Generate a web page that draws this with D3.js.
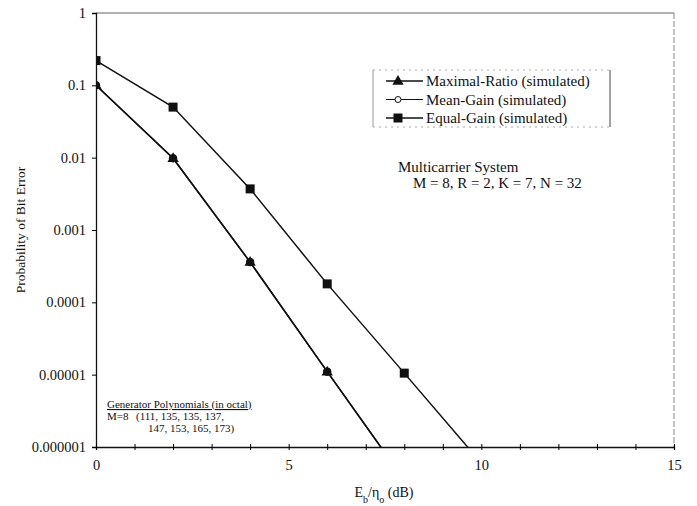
<!DOCTYPE html>
<html>
<head>
<meta charset="utf-8">
<style>
  body { margin: 0; background: #fff; }
  svg text { font-family: "Liberation Serif", "Times New Roman", serif; fill: #111; }
</style>
<script src="https://d3js.org/d3.v7.min.js"></script>
</head>
<body>
<svg id="svg" width="697" height="506"></svg>
<script>
  // values
  let snr = [0, 2, 4, 6, 8];
  let snrEqual = [0, 2, 4, 6, 8, 10];
  let maximalRatio = [0.1, 0.0098, 0.00036, 0.000011, 0.00000035];
  let meanGain = [0.1, 0.0098, 0.00036, 0.000011, 0.00000035];
  let equalGain = [0.22, 0.05, 0.0037, 0.00018, 0.0000105, 0.0000006];
  let yTicks = [1, 0.1, 0.01, 0.001, 0.0001, 0.00001, 0.000001];
  let yTickLabels = ["1", "0.1", "0.01", "0.001", "0.0001", "0.00001", "0.000001"];
  let xTicks = d3.range(0, 16);
  let xLabelTicks = [0, 5, 10, 15];
  let legendNames = ["Maximal-Ratio (simulated)", "Mean-Gain (simulated)", "Equal-Gain (simulated)"];

  let svg = d3.select("#svg");
  let x = d3.scaleLinear().domain([0, 15]).range([96, 674]);
  let y = d3.scaleLog().domain([1e-6, 1]).range([447, 13]);

  svg.append("clipPath").attr("id", "plot")
    .append("rect").attr("x", 96).attr("y", 13).attr("width", 578).attr("height", 434);

  // frame top / right
  svg.append("line").attr("x1", 96).attr("x2", 674).attr("y1", 13).attr("y2", 13)
    .attr("stroke", "#666").attr("stroke-width", 1);
  svg.append("line").attr("x1", 674).attr("x2", 674).attr("y1", 13).attr("y2", 447)
    .attr("stroke", "#888").attr("stroke-width", 1).attr("stroke-dasharray", "6,2");

  // y axis
  let yAxis = svg.append("g").attr("transform", "translate(96,0)")
    .call(d3.axisLeft(y).tickValues(yTicks).tickSize(4).tickPadding(6)
      .tickFormat(function (d, i) { return yTickLabels[i]; }));
  yAxis.select(".domain").attr("stroke", "#111").attr("stroke-width", 1.3);
  yAxis.selectAll("text").style("font-size", "14.5px").style("font-family", "Liberation Serif");

  // x axis
  let xAxis = svg.append("g").attr("transform", "translate(0,447)")
    .call(d3.axisBottom(x).tickValues(xTicks).tickSize(3).tickPadding(10)
      .tickFormat(function (d) { return xLabelTicks.includes(d) ? d : ""; }));
  xAxis.select(".domain").attr("stroke", "#111").attr("stroke-width", 1.3);
  xAxis.selectAll(".tick line").attr("y1", -3);
  xAxis.selectAll("text").style("font-size", "14.5px").style("font-family", "Liberation Serif");

  // axis titles
  svg.append("text")
    .attr("transform", "translate(25,230) rotate(-90)")
    .attr("text-anchor", "middle")
    .style("font-size", "13.5px")
    .text("Probability of Bit Error");

  let xt = svg.append("text").attr("x", 384).attr("y", 497)
    .attr("text-anchor", "middle").style("font-size", "14px");
  xt.append("tspan").text("E");
  xt.append("tspan").attr("baseline-shift", "sub").style("font-size", "10px").text("b");
  xt.append("tspan").text("/η");
  xt.append("tspan").attr("baseline-shift", "sub").style("font-size", "10px").text("o");
  xt.append("tspan").text(" (dB)");

  // series lines
  let line = d3.line().x(function (d) { return x(d[0]); }).y(function (d) { return y(d[1]); });
  let series = [
    { xs: snr, ys: maximalRatio, shape: "triangle" },
    { xs: snr, ys: meanGain, shape: "circle" },
    { xs: snrEqual, ys: equalGain, shape: "square" }
  ];
  let g = svg.append("g").attr("clip-path", "url(#plot)");
  series.forEach(function (s) {
    let pts = s.xs.map(function (v, i) { return [v, s.ys[i]]; });
    g.append("path").datum(pts).attr("d", line)
      .attr("fill", "none").attr("stroke", "#111").attr("stroke-width", 1.5);
  });

  function marker(sel, shape, cx, cy) {
    if (shape === "square") {
      sel.append("rect").attr("x", cx - 4.5).attr("y", cy - 4.5).attr("width", 9).attr("height", 9)
        .attr("fill", "#111");
    } else if (shape === "triangle") {
      sel.append("path").attr("d", d3.symbol().type(d3.symbolTriangle).size(55)())
        .attr("transform", "translate(" + cx + "," + (cy + 0.5) + ")").attr("fill", "#111");
    } else {
      sel.append("circle").attr("cx", cx).attr("cy", cy).attr("r", 3.8)
        .attr("fill", "#111").attr("stroke", "#111");
    }
  }
  let mg = svg.append("g").attr("clip-path", "url(#plot)");
  series.forEach(function (s) {
    s.xs.forEach(function (v, i) {
      if (s.ys[i] >= 1e-6) marker(mg, s.shape, x(v), y(s.ys[i]));
    });
  });

  // legend
  let lg = svg.append("g");
  lg.append("line").attr("x1", 373).attr("x2", 373).attr("y1", 70).attr("y2", 127).attr("stroke", "#999");
  lg.append("line").attr("x1", 610).attr("x2", 610).attr("y1", 70).attr("y2", 127).attr("stroke", "#444");
  lg.append("line").attr("x1", 373).attr("x2", 610).attr("y1", 70).attr("y2", 70)
    .attr("stroke", "#aaa").attr("stroke-dasharray", "2,4");
  lg.append("line").attr("x1", 373).attr("x2", 610).attr("y1", 127).attr("y2", 127)
    .attr("stroke", "#aaa").attr("stroke-dasharray", "2,4");
  let shapes = ["triangle", "hollow", "square"];
  legendNames.forEach(function (name, i) {
    let yy = 81 + i * 18.5;
    lg.append("line").attr("x1", 386).attr("x2", 423).attr("y1", yy).attr("y2", yy)
      .attr("stroke", "#111").attr("stroke-width", i === 1 ? 1 : 1.5);
    if (shapes[i] === "hollow") {
      lg.append("circle").attr("cx", 398).attr("cy", yy).attr("r", 3)
        .attr("fill", "#fff").attr("stroke", "#111");
    } else {
      marker(lg, shapes[i], 398, yy);
    }
    lg.append("text").attr("x", 426).attr("y", yy + 5).style("font-size", "15px").text(name);
  });

  // annotations
  svg.append("text").attr("x", 398).attr("y", 172).style("font-size", "15px").text("Multicarrier System");
  svg.append("text").attr("x", 413).attr("y", 188).style("font-size", "15px")
    .text("M = 8, R = 2, K = 7, N = 32");

  svg.append("text").attr("x", 107).attr("y", 408).style("font-size", "11px")
    .style("text-decoration", "underline").text("Generator Polynomials (in octal)");
  svg.append("text").attr("x", 107).attr("y", 420).style("font-size", "11px").text("M=8");
  svg.append("text").attr("x", 136).attr("y", 420).style("font-size", "11px").text("(111, 135, 135, 137,");
  svg.append("text").attr("x", 148).attr("y", 432).style("font-size", "11px").text("147, 153, 165, 173)");
</script>
</body>
</html>
